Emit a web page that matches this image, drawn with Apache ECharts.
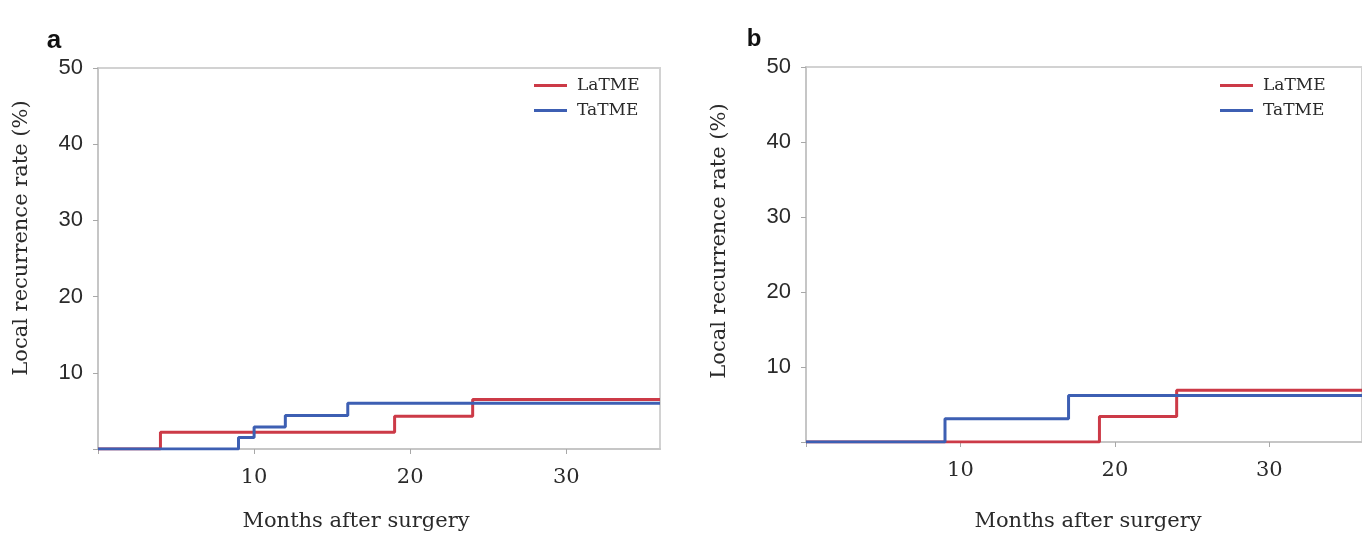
<!DOCTYPE html>
<html>
<head>
<meta charset="utf-8">
<style>
  html, body { margin: 0; padding: 0; background: #fff; }
  #chart { width: 1362px; height: 537px; }
</style>
<script src="https://cdn.jsdelivr.net/npm/echarts@6/dist/echarts.min.js"></script>
</head>
<body>
<div id="chart"></div>
<script>
// panel a
const aLaMonths = [0, 4, 19, 24, 36]
const aLaRates = [0, 2.2, 4.3, 6.5, 6.5]
const aTaMonths = [0, 9, 10, 12, 16, 36]
const aTaRates = [0, 1.5, 2.9, 4.4, 6.0, 6.0]
// panel b
const bLaMonths = [0, 19, 24, 36]
const bLaRates = [0, 3.4, 6.9, 6.9]
const bTaMonths = [0, 9, 17, 36]
const bTaRates = [0, 3.1, 6.2, 6.2]

const xTicks = [0, 10, 20, 30]
const xLabels = [10, 20, 30]
const yTicks = [0, 10, 20, 30, 40, 50]
const yLabels = [10, 20, 30, 40, 50]

const RED = '#cc3a47'
const BLUE = '#3d5fb3'
const AXIS_GRAY = '#c6c6c6'

const pairs = (xs, ys) => xs.map((x, i) => [x, ys[i]])

const chart = echarts.init(document.getElementById('chart'))

const makeX = (gridIndex) => ({
  type: 'value', gridIndex, min: 0, max: 36,
  splitLine: { show: false },
  axisLine: { lineStyle: { color: AXIS_GRAY, width: 2 } },
  axisTick: { customValues: xTicks, length: 5, lineStyle: { color: '#a8a8a8' } },
  axisLabel: {
    customValues: xLabels, margin: 18,
    fontFamily: 'DejaVu Serif', fontSize: 21, color: '#2a2a2a'
  }
})
const makeY = (gridIndex) => ({
  type: 'value', gridIndex, min: 0, max: 50,
  splitLine: { show: false },
  axisLine: { show: true, lineStyle: { color: AXIS_GRAY, width: 2 } },
  axisTick: { show: true, customValues: yTicks, length: 5, lineStyle: { color: '#a8a8a8' } },
  axisLabel: {
    customValues: yLabels, margin: 15,
    fontFamily: 'Liberation Sans', fontSize: 22, color: '#2a2a2a'
  }
})
const makeLine = (name, data, color, idx) => ({
  name, type: 'line', step: 'end', data,
  xAxisIndex: idx, yAxisIndex: idx,
  symbol: 'none', silent: true,
  lineStyle: { color, width: 3 },
  itemStyle: { color }
})
const makeLegend = (left) => ({
  data: ['LaTME', 'TaTME'], orient: 'vertical',
  left, top: 71, icon: 'rect', itemWidth: 33, itemHeight: 3, itemGap: 6,
  textStyle: { fontFamily: 'DejaVu Serif', fontSize: 17, color: '#2a2a2a', lineHeight: 19, padding: [0, 0, 0, 5] }
})
const title = (text, x, y, rot) => ({
  type: 'text', x, y, rotation: rot || 0,
  style: { text, x: 0, y: 0, align: 'center', verticalAlign: 'middle',
    font: '21px "DejaVu Serif"', fill: '#2a2a2a' }
})
const tag = (text, x, y, size) => ({
  type: 'text', x, y,
  style: { text, align: 'center', verticalAlign: 'alphabetic',
    font: 'bold ' + size + 'px "Liberation Sans"', fill: '#111' }
})

const option = {
  animation: false,
  grid: [
    { left: 98, top: 68, right: 702, bottom: 88, show: true, borderColor: '#d2d2d2', borderWidth: 2 },
    { left: 806, top: 67, right: -2, bottom: 95, show: true, borderColor: '#d2d2d2', borderWidth: 2 }
  ],
  xAxis: [makeX(0), makeX(1)],
  yAxis: [makeY(0), makeY(1)],
  legend: [makeLegend(529), makeLegend(1215)],
  series: [
    makeLine('LaTME', pairs(aLaMonths, aLaRates), RED, 0),
    makeLine('TaTME', pairs(aTaMonths, aTaRates), BLUE, 0),
    makeLine('LaTME', pairs(bLaMonths, bLaRates), RED, 1),
    makeLine('TaTME', pairs(bTaMonths, bTaRates), BLUE, 1)
  ],
  graphic: [
    tag('a', 54, 28, 26),
    tag('b', 754, 27, 24),
    title('Months after surgery', 356, 522),
    title('Local recurrence rate (%)', 22, 238, Math.PI / 2),
    title('Months after surgery', 1088, 522),
    title('Local recurrence rate (%)', 720, 241, Math.PI / 2)
  ]
}

chart.setOption(option)
</script>
</body>
</html>
